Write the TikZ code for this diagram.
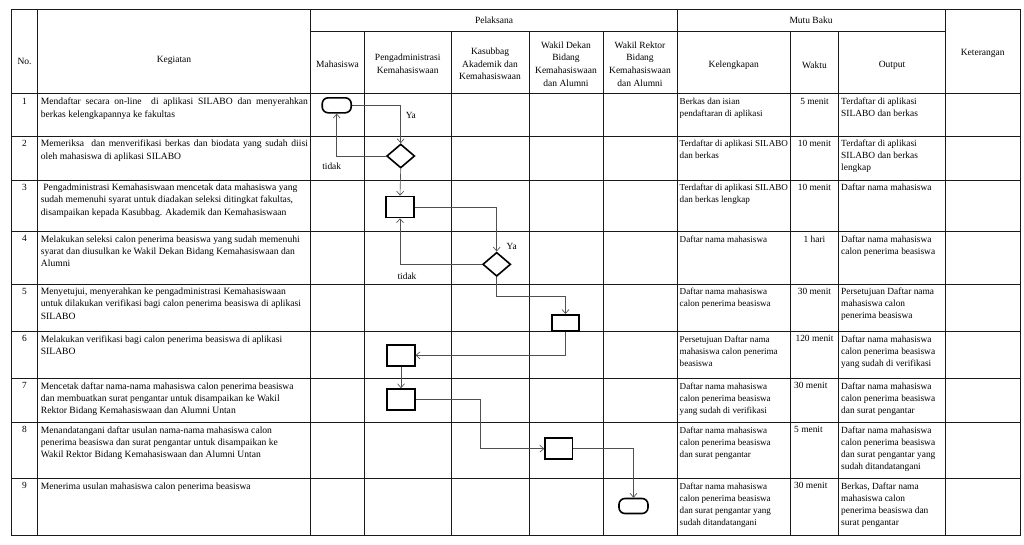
\documentclass[tikz,border=0pt]{standalone}
\usepackage{fontspec}
\setmainfont{Liberation Serif}
\usetikzlibrary{shapes.geometric, arrows.meta, positioning, calc}
\definecolor{gridline}{HTML}{1a1a1a}
\definecolor{flowline}{HTML}{505050}
\newcommand{\cellfont}{\fontsize{9.4}{12}\selectfont}
\newcommand{\kelfont}{\fontsize{9.1}{12}\selectfont}
\newcommand{\kegfont}{\fontsize{9.6}{12.1}\selectfont}
\newcommand{\hdrfont}{\fontsize{9.5}{12.6}\selectfont}
\tikzset{
  tabline/.style={draw=gridline, line width=1pt},
  hdr/.style={font=\hdrfont, align=center, inner sep=0pt},
  cell/.style={font=\cellfont, align=left, anchor=north west, inner sep=1pt},
  kel/.style={cell, font=\kelfont},
  keg/.style={cell, font=\kegfont},
  kegjust/.style={keg, text width=267pt, align=justify},
  num/.style={font=\cellfont, anchor=north, inner sep=1pt},
  term/.style={draw, line width=1.6pt, rounded corners=6pt, minimum width=29pt, minimum height=15pt, inner sep=0pt},
  proc/.style={draw, line width=1.6pt, minimum width=27.5pt, minimum height=21pt, inner sep=0pt},
  decision/.style={diamond, draw, line width=1.6pt, minimum width=28pt, minimum height=24pt, inner sep=0pt},
  flow/.style={draw=flowline, line width=0.65pt, -{Straight Barb[length=4pt,width=7pt]}},
  lbl/.style={font=\cellfont, inner sep=0pt}
}

\begin{document}
\begin{tikzpicture}[x=1pt, y=-1pt]
  \useasboundingbox (0,0) rectangle (1024,544);

  % table frame
  \draw[tabline] (11.5,9) rectangle (1020,535.5);
  \foreach \yy in {93,136.5,180,231.5,284,331.5,378.5,422.5,478.5}
    \draw[tabline] (11.5,\yy) -- (1020,\yy);
  \draw[tabline] (310.5,31) -- (945.5,31);
  \foreach \xx in {37.5,310.5,677,945.5}
    \draw[tabline] (\xx,9) -- (\xx,535.5);
  \foreach \xx in {364.5,451,529,603,790.5,838.5}
    \draw[tabline] (\xx,31) -- (\xx,535.5);

  % header
  \node[hdr] (hno) at (24.5,61) {No.};
  \node[hdr] (hkeg) at (174,60) {Kegiatan};
  \node[hdr] (hpel) at (494,20) {Pelaksana};
  \node[hdr] (hmutu) at (811,20) {Mutu Baku};
  \node[hdr] (hket) at (982.7,53) {Keterangan};
  \node[hdr] (hmhs) at (337.5,64) {Mahasiswa};
  \node[hdr] (hpeng) at (407.7,64) {Pengadministrasi\\Kemahasiswaan};
  \node[hdr] (hkasub) at (490,64) {Kasubbag\\Akademik dan\\Kemahasiswaan};
  \node[hdr] (hwd) at (566,64) {Wakil Dekan\\Bidang\\Kemahasiswaan\\dan Alumni};
  \node[hdr] (hwr) at (640,64) {Wakil Rektor\\Bidang\\Kemahasiswaan\\dan Alumni};
  \node[hdr] (hkel) at (733.7,65) {Kelengkapan};
  \node[hdr] (hwkt) at (814.5,65) {Waktu};
  \node[hdr] (hout) at (892,65) {Output};

  % row 1
  \node[num] (n1) at (24.5,97) {1};
  \node[kegjust] (k1) at (39.7,97) {Mendaftar secara on-line\ \ di aplikasi SILABO dan menyerahkan\linebreak berkas kelengkapannya ke fakultas};
  \node[kel] (l1) at (678.5,97) {Berkas dan isian\\pendaftaran di aplikasi};
  \node[num] (w1) at (814.5,97) {5 menit};
  \node[cell] (o1) at (840,97) {Terdaftar di aplikasi\\SILABO dan berkas};

  % row 2
  \node[num] (n2) at (24.5,139) {2};
  \node[kegjust] (k2) at (39.7,139) {Memeriksa\ \ dan menverifikasi berkas dan biodata yang sudah diisi\linebreak oleh mahasiswa di aplikasi SILABO};
  \node[kel] (l2) at (678.5,139) {Terdaftar di aplikasi SILABO\\dan berkas};
  \node[num] (w2) at (814.5,139) {10 menit};
  \node[cell] (o2) at (840,139) {Terdaftar di aplikasi\\SILABO dan berkas\\lengkap};

  % row 3
  \node[num] (n3) at (24.5,183) {3};
  \node[keg] (k3) at (39.7,183) {\hspace*{2.5pt}Pengadministrasi Kemahasiswaan mencetak data mahasiswa yang\\sudah memenuhi syarat untuk diadakan seleksi ditingkat fakultas,\\disampaikan kepada Kasubbag. Akademik dan Kemahasiswaan};
  \node[kel] (l3) at (678.5,183) {Terdaftar di aplikasi SILABO\\dan berkas lengkap};
  \node[num] (w3) at (814.5,183) {10 menit};
  \node[cell] (o3) at (840,183) {Daftar nama mahasiswa};

  % row 4
  \node[num] (n4) at (24.5,234.5) {4};
  \node[keg] (k4) at (39.7,234.5) {Melakukan seleksi calon penerima beasiswa yang sudah memenuhi\\syarat dan diusulkan ke Wakil Dekan Bidang Kemahasiswaan dan\\Alumni};
  \node[kel] (l4) at (678.5,234.5) {Daftar nama mahasiswa};
  \node[num] (w4) at (814.5,234.5) {1 hari};
  \node[cell] (o4) at (840,234.5) {Daftar nama mahasiswa\\calon penerima beasiswa};

  % row 5
  \node[num] (n5) at (24.5,287) {5};
  \node[keg] (k5) at (39.7,287) {Menyetujui, menyerahkan ke pengadministrasi Kemahasiswaan\\untuk dilakukan verifikasi bagi calon penerima beasiswa di aplikasi\\SILABO};
  \node[kel] (l5) at (678.5,287) {Daftar nama mahasiswa\\calon penerima beasiswa};
  \node[num] (w5) at (814.5,287) {30 menit};
  \node[cell] (o5) at (840,287) {Persetujuan Daftar nama\\mahasiswa calon\\penerima beasiswa};

  % row 6
  \node[num] (n6) at (24.5,334.5) {6};
  \node[keg] (k6) at (39.7,334.5) {Melakukan verifikasi bagi calon penerima beasiswa di aplikasi\\SILABO};
  \node[kel] (l6) at (678.5,334.5) {Persetujuan Daftar nama\\mahasiswa calon penerima\\beasiswa};
  \node[num] (w6) at (814.5,334.5) {120 menit};
  \node[cell] (o6) at (840,334.5) {Daftar nama mahasiswa\\calon penerima beasiswa\\yang sudah di verifikasi};

  % row 7
  \node[num] (n7) at (24.5,381.5) {7};
  \node[keg] (k7) at (39.7,381.5) {Mencetak daftar nama-nama mahasiswa calon penerima beasiswa\\dan membuatkan surat pengantar untuk disampaikan ke Wakil\\Rektor Bidang Kemahasiswaan dan Alumni Untan};
  \node[kel] (l7) at (678.5,381.5) {Daftar nama mahasiswa\\calon penerima beasiswa\\yang sudah di verifikasi};
  \node[cell] (w7) at (793,381.5) {30 menit};
  \node[cell] (o7) at (840,381.5) {Daftar nama mahasiswa\\calon penerima beasiswa\\dan surat pengantar};

  % row 8
  \node[num] (n8) at (24.5,425.5) {8};
  \node[keg] (k8) at (39.7,425.5) {Menandatangani daftar usulan nama-nama mahasiswa calon\\penerima beasiswa dan surat pengantar untuk disampaikan ke\\Wakil Rektor Bidang Kemahasiswaan dan Alumni Untan};
  \node[kel] (l8) at (678.5,425.5) {Daftar nama mahasiswa\\calon penerima beasiswa\\dan surat pengantar};
  \node[cell] (w8) at (793,425.5) {5 menit};
  \node[cell] (o8) at (840,425.5) {Daftar nama mahasiswa\\calon penerima beasiswa\\dan surat pengantar yang\\sudah ditandatangani};

  % row 9
  \node[num] (n9) at (24.5,481.5) {9};
  \node[keg] (k9) at (39.7,481.5) {Menerima usulan mahasiswa calon penerima beasiswa};
  \node[kel] (l9) at (678.5,481.5) {Daftar nama mahasiswa\\calon penerima beasiswa\\dan surat pengantar yang\\sudah ditandatangani};
  \node[cell] (w9) at (793,481.5) {30 menit};
  \node[cell] (o9) at (840,481.5) {Berkas, Daftar nama\\mahasiswa calon\\penerima beasiswa dan\\surat pengantar};

  % flow shapes
  \node[term] (t1) at (336.7,105.3) {};
  \node[decision] (d2) at (400.7,156) {};
  \node[proc] (p3) at (400,207) {};
  \node[decision] (d4) at (496.7,264.3) {};
  \node[proc, minimum height=16.5pt] (p5) at (565.5,323) {};
  \node[proc] (p6) at (401,355.3) {};
  \node[proc] (p7) at (401,399.5) {};
  \node[proc] (p8) at (558.8,448.7) {};
  \node[term] (t9) at (633.5,506) {};

  % connectors
  \draw[flow] (t1.east) -| (d2.north);
  \draw[flow] (d2.west) -| (t1.south);
  \draw[flow] (d2.south) -- (p3.north);
  \draw[flow] (p3.east) -| (d4.north);
  \draw[flow] (d4.west) -| (p3.south);
  \draw[flow] (d4.south) -- ++(0,19.5) -| (p5.north);
  \draw[flow] (p5.south) |- (p6.east);
  \draw[flow] (p6.south) -- (p7.north);
  \draw[flow] (p7.east) -- ++(65,0) |- (p8.west);
  \draw[flow] (p8.east) -| (t9.north);

  \node[lbl] (ya1) at (410.8,115) {Ya};
  \node[lbl] (tidak2) at (331.7,166.7) {tidak};
  \node[lbl] (ya4) at (511.7,246.7) {Ya};
  \node[lbl] (tidak4) at (407,276.7) {tidak};
\end{tikzpicture}
\end{document}
